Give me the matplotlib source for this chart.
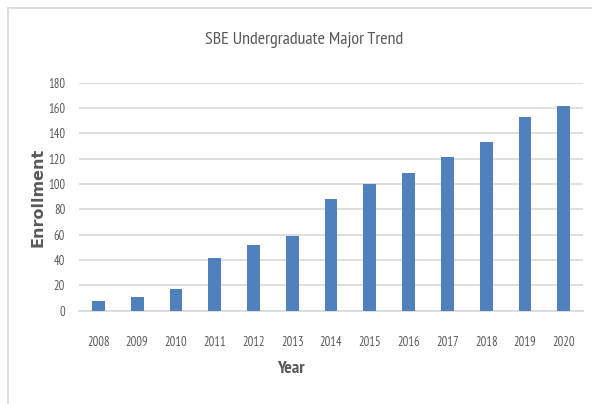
import matplotlib
matplotlib.use("Agg")
import matplotlib.pyplot as plt
from matplotlib.lines import Line2D

# values
years = ["2008", "2009", "2010", "2011", "2012", "2013", "2014",
         "2015", "2016", "2017", "2018", "2019", "2020"]
enrollment = [8, 11, 17, 42, 52, 59, 88, 100, 109, 121, 133, 153, 162]
y_ticks = [0, 20, 40, 60, 80, 100, 120, 140, 160, 180]

narrow = ["PT Sans Narrow", "DejaVu Sans"]
text_grey = "#595959"

fig = plt.figure(figsize=(5.92, 4.04), dpi=100)
ax = fig.add_axes([0.1334, 0.2309, 0.8516, 0.5644])

x = list(range(len(years)))
ax.bar(x, enrollment, width=0.33, color="#4F81BD", zorder=3)

ax.set_xlim(-0.5, len(years) - 0.5)
ax.set_ylim(0, 180)
ax.set_yticks(y_ticks)
ax.set_xticks(x)
ax.set_xticklabels(years)
ax.yaxis.grid(True, color="#D9D9D9", linewidth=1.2, zorder=0)
ax.set_axisbelow(True)

for side in ["top", "right", "left"]:
    ax.spines[side].set_visible(False)
ax.spines["bottom"].set_color("#D9D9D9")
ax.spines["bottom"].set_linewidth(1.2)
ax.tick_params(axis="both", length=0, labelsize=9, labelcolor=text_grey)
ax.tick_params(axis="x", pad=18)
ax.tick_params(axis="y", pad=10)
for lab in ax.get_xticklabels() + ax.get_yticklabels():
    lab.set_family(narrow)

fig.text(0.513, 0.90, "SBE Undergraduate Major Trend", ha="center", va="center",
         fontsize=13, color=text_grey, family=narrow)
fig.text(0.491, 0.087, "Year", ha="center", va="center", fontsize=13,
         fontweight="bold", color=text_grey, family=narrow)
fig.text(0.064, 0.511, "Enrollment", ha="center", va="center", rotation=90,
         fontsize=11.5, fontweight="bold", color=text_grey, family="DejaVu Sans")

# chart frame (only top and left edges show in the picture)
fig.add_artist(Line2D([8 / 592, 1], [1 - 8 / 404, 1 - 8 / 404],
                      transform=fig.transFigure, color="#D9D9D9", linewidth=1.2))
fig.add_artist(Line2D([8 / 592, 8 / 592], [0, 1 - 8 / 404],
                      transform=fig.transFigure, color="#D9D9D9", linewidth=1.2))

fig.savefig("out.png", dpi=100)
